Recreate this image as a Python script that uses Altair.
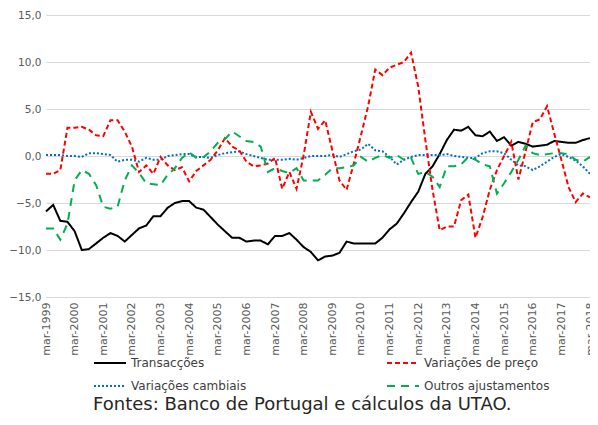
import altair as alt
import pandas as pd

# quarter index 0 = mar-1999
transaccoes = [-5.9, -5.2, -6.9, -7.0, -8.0, -10.0, -9.9, -9.3, -8.7, -8.2, -8.5, -9.1, -8.4, -7.7, -7.4, -6.4,
               -6.4, -5.5, -5.0, -4.8, -4.8, -5.5, -5.7, -6.5, -7.3, -8.0, -8.7, -8.7, -9.1, -9.0, -9.0, -9.4,
               -8.5, -8.5, -8.2, -8.9, -9.7, -10.2, -11.1, -10.7, -10.6, -10.3, -9.1, -9.3, -9.3, -9.3, -9.3,
               -8.7, -7.8, -7.2, -6.1, -4.9, -3.8, -1.9, -1.1, 0.2, 1.7, 2.8, 2.7, 3.1, 2.2, 2.1, 2.6, 1.6,
               2.0, 1.1, 1.5, 1.3, 1.0, 1.1, 1.2, 1.6, 1.5, 1.4, 1.4, 1.7, 1.9]
var_preco = [-1.9, -1.9, -1.5, 3.0, 3.0, 3.1, 2.8, 2.2, 2.1, 3.8, 3.8, 2.6, 1.0, -1.7, -1.0, -1.9,
             -0.1, -1.0, -1.5, -1.2, -2.7, -1.6, -1.0, -0.4, 0.6, 1.9, 1.0, 0.6, -0.6, -1.1, -1.0, -0.8,
             -0.2, -3.5, -1.7, -3.5, 0.1, 4.7, 2.9, 3.8, 0.6, -2.6, -3.6, -0.8, 2.2, 5.3, 9.2, 8.6, 9.4,
             9.7, 10.0, 11.0, 7.4, 1.7, -3.6, -7.9, -7.5, -7.5, -4.7, -4.1, -8.7, -6.5, -3.6, -1.5, 0.0,
             1.5, -2.5, 0.5, 3.6, 3.9, 5.3, 2.4, -0.4, -3.3, -4.9, -4.0, -4.4]
var_cambiais = [0.1, 0.1, 0.1, 0.0, 0.0, -0.1, 0.3, 0.3, 0.2, 0.1, -0.6, -0.4, -0.4, -0.6, -0.2, -0.4,
                -0.4, 0.0, 0.1, 0.2, 0.2, -0.1, -0.1, -0.2, 0.1, 0.3, 0.4, 0.5, 0.2, 0.0, -0.2, -0.4,
                -0.4, -0.4, -0.3, -0.4, -0.2, 0.0, 0.0, 0.0, 0.1, -0.1, 0.2, 0.5, 0.7, 1.3, 0.6, 0.5,
                -0.1, -0.9, -0.4, -0.1, 0.1, 0.1, 0.1, 0.1, 0.2, 0.0, -0.1, -0.2, -0.2, 0.3, 0.5, 0.5,
                0.3, -0.4, -1.0, -1.1, -1.5, -1.1, -0.6, -0.1, 0.2, -0.1, -0.5, -1.1, -1.9]
outros = [-7.7, -7.7, -8.9, -7.2, -2.6, -1.5, -1.9, -3.1, -5.4, -5.6, -5.4, -2.6, -1.0, -1.8, -2.9, -3.0,
          -3.1, -2.0, -1.3, -0.2, 0.4, -0.2, -0.1, 0.5, 1.4, 1.8, 2.6, 2.1, 1.6, 1.5, 1.0, -1.7,
          -1.3, -1.6, -1.8, -1.3, -2.6, -2.6, -2.6, -2.0, -1.3, -1.3, -1.2, -1.0, -0.1, -0.6, -0.2, 0.1,
          -0.2, 0.1, -0.4, -0.2, -1.9, -1.7, -2.2, -3.3, -1.1, -1.1, -0.9, -0.1, -0.4, -0.9, -1.1, -4.0,
          -2.9, -1.7, -0.4, 1.1, 0.3, 0.1, 0.2, 0.3, 0.3, 0.2, -0.4, -0.6, -0.1]

# legend fills column by column: first column Transacções / Variações cambiais
series_names = ["Transacções", "Variações cambiais", "Variações de preço", "Outros ajustamentos"]
series_values = [transaccoes, var_cambiais, var_preco, outros]
series_colors = ["#000000", "#0070C0", "#FF0000", "#00B050"]
series_dashes = [[1, 0], [2, 2], [5, 3], [8, 6]]
y_ticks = [-15, -10, -5, 0, 5, 10, 15]
x_label_quarters = list(range(0, 77, 4))

rows = []
for name, vals in zip(series_names, series_values):
    for q, v in enumerate(vals):
        rows.append({"q": q, "valor": v, "serie": name})
df = pd.DataFrame(rows)

FONT = "DejaVu Sans"

def make_legend():
    return alt.Legend(title=None, orient="none", legendX=47, legendY=331, columns=2,
                      columnPadding=136, rowPadding=-5, symbolType="stroke",
                      symbolSize=1024, symbolStrokeWidth=2, labelFontSize=12,
                      labelFont=FONT, labelColor="#404040", labelLimit=200)

chart = alt.Chart(df).mark_line(strokeWidth=2).encode(
    x=alt.X("q:Q", scale=alt.Scale(domain=[0, 76], nice=False, zero=False),
            axis=alt.Axis(values=x_label_quarters, labelExpr="'mar-' + (1999 + datum.value / 4)",
                          labelAngle=-90, grid=False, ticks=False, domain=False, title=None,
                          labelFontSize=11, labelColor="#595959", labelFont=FONT, labelPadding=5)),
    y=alt.Y("valor:Q", scale=alt.Scale(domain=[-15, 15], nice=False),
            axis=alt.Axis(values=y_ticks, labelExpr="replace(format(datum.value, '.1f'), '.', ',')",
                          grid=True, gridColor="#D9D9D9", ticks=False, domain=False, title=None,
                          labelFontSize=10.5, labelColor="#595959", labelFont=FONT, labelPadding=5)),
    color=alt.Color("serie:N", sort=series_names,
                    scale=alt.Scale(domain=series_names, range=series_colors),
                    legend=make_legend()),
    strokeDash=alt.StrokeDash("serie:N", sort=series_names,
                              scale=alt.Scale(domain=series_names, range=series_dashes),
                              legend=make_legend()),
    order=alt.Order("q:Q"),
).properties(
    width=544,
    height=282,
    autosize=alt.AutoSizeParams(type="none"),
    padding={"left": 38, "top": 7, "right": 0, "bottom": 119},
    title=alt.TitleParams("Fontes: Banco de Portugal e cálculos da UTAO.", orient="bottom",
                          anchor="start", frame="group", dx=47, fontSize=18, font=FONT,
                          fontWeight="normal", color="#262626", offset=4),
).configure_view(stroke=None)

chart.save("out.html", embed_options={"renderer": "svg", "actions": False})
